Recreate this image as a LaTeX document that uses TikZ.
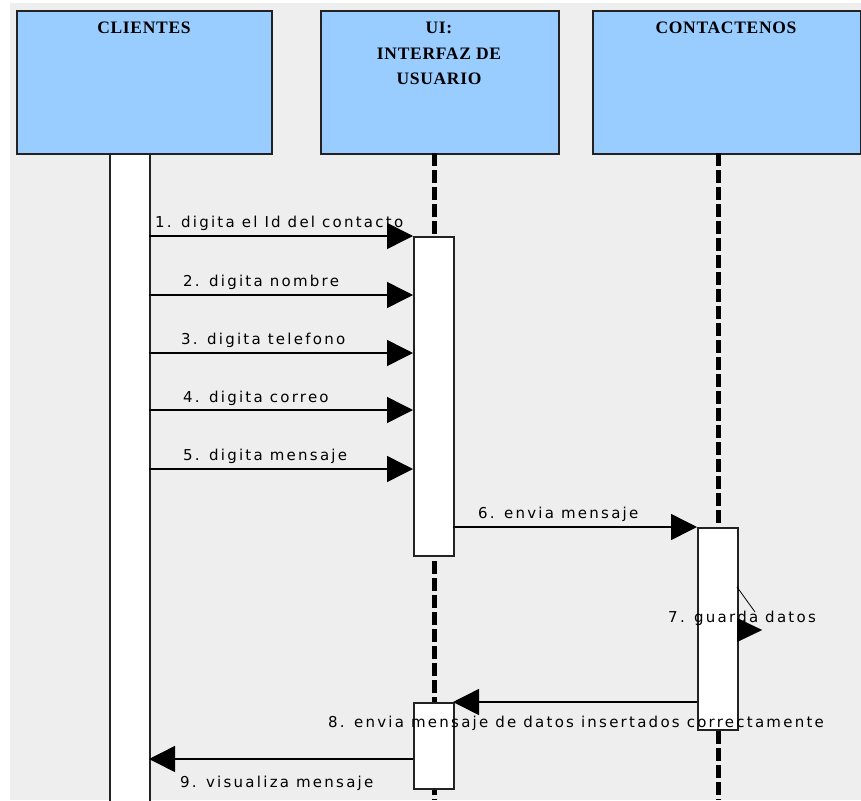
\documentclass[tikz,border=0pt]{standalone}
\usepackage{fontspec}
\usetikzlibrary{arrows.meta}
\newfontfamily\headfont[LetterSpace=4]{Liberation Serif}
\newfontfamily\msgfont[LetterSpace=15]{DejaVu Sans}
\definecolor{hdrblue}{HTML}{99CCFF}
\definecolor{canvas}{HTML}{EEEEEE}
\definecolor{edge}{HTML}{222222}

\begin{document}
\begin{tikzpicture}[x=1pt,y=-1pt,
  header/.style={draw=edge, line width=1.8pt, fill=hdrblue, rectangle, anchor=north west, inner sep=0pt},
  bar/.style={draw=edge, line width=1.6pt, fill=white, rectangle, anchor=north west, inner sep=0pt, minimum width=40pt},
  lifeline/.style={line width=5pt, dash pattern=on 13pt off 4pt},
  msg/.style={line width=1.5pt, -{Triangle[length=26pt,width=26pt]}},
  msglabel/.style={font=\msgfont\fontsize{15}{18}\selectfont, anchor=base west, inner sep=0pt},
  headlabel/.style={font=\headfont\bfseries\fontsize{17.5}{25.5}\selectfont, align=center, anchor=north, inner sep=0pt}]

\useasboundingbox (0,0) rectangle (861,800);
\clip (0,0) rectangle (861,800);

% canvas
\fill[white] (0,0) rectangle (861,800);
\fill[canvas] (10,3) rectangle (861,800);

% participants
\node[header, minimum width=255pt, minimum height=143pt] (clientes) at (16,10) {};
\node[header, minimum width=238pt, minimum height=143pt] (ui) at (320,10) {};
\node[header, minimum width=268pt, minimum height=143pt] (contact) at (592,10) {};

\node[headlabel] (hclientes) at (144,22) {CLIENTES};
\node[headlabel] (hui) at (439,22) {UI:\\INTERFAZ DE\\USUARIO};
\node[headlabel] (hcontact) at (726,22) {CONTACTENOS};

% lifelines
\node[bar, minimum height=650pt] (clibar) at (109,153) {};
\draw[lifeline] (434,153) -- (434,800);
\draw[lifeline] (718,153) -- (718,800);

% activations
\node[bar, minimum height=319pt] (uiact) at (413,236) {};
\node[bar, minimum height=86pt] (uiret) at (413,702) {};
\node[bar, minimum height=202pt] (ctact) at (697,527) {};

% message end points
\coordinate (m1s) at (149,236); \coordinate (m1e) at (413,236);
\coordinate (m2s) at (149,295); \coordinate (m2e) at (413,295);
\coordinate (m3s) at (149,353); \coordinate (m3e) at (413,353);
\coordinate (m4s) at (149,410); \coordinate (m4e) at (413,410);
\coordinate (m5s) at (149,469); \coordinate (m5e) at (413,469);
\coordinate (m6s) at (453,527); \coordinate (m6e) at (697,527);
\coordinate (m7a) at (737,587); \coordinate (m7b) at (755,612);
\coordinate (m7c) at (737,630); \coordinate (m7d) at (762,630);
\coordinate (m8s) at (697,702); \coordinate (m8e) at (453,702);
\coordinate (m9s) at (413,759); \coordinate (m9e) at (149,759);

% messages
\draw[msg] (m1s) -- (m1e);
\draw[msg] (m2s) -- (m2e);
\draw[msg] (m3s) -- (m3e);
\draw[msg] (m4s) -- (m4e);
\draw[msg] (m5s) -- (m5e);
\draw[msg] (m6s) -- (m6e);
\draw[line width=0.8pt] (m7a) -- (m7b);
\draw[line width=0.1pt, -{Triangle[length=25pt,width=24pt]}] (m7c) -- (m7d);
\draw[msg] (m8s) -- (m8e);
\draw[msg] (m9s) -- (m9e);

% message labels
\node[msglabel] (l1) at (155,227) {1. digita el Id del contacto};
\node[msglabel] (l2) at (183,286) {2. digita nombre};
\node[msglabel] (l3) at (181,344) {3. digita telefono};
\node[msglabel] (l4) at (183,402) {4. digita correo};
\node[msglabel] (l5) at (183,460) {5. digita mensaje};
\node[msglabel] (l6) at (478,518) {6. envia mensaje};
\node[msglabel] (l7) at (668,622) {7. guarda datos};
\node[msglabel] (l8) at (328,727) {8. envia mensaje de datos insertados correctamente};
\node[msglabel] (l9) at (180,787) {9. visualiza mensaje};
\end{tikzpicture}
\end{document}
